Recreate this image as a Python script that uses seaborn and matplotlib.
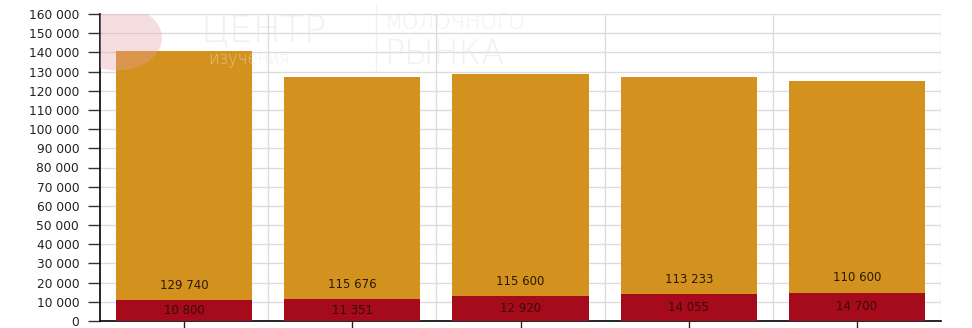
import numpy as np
import pandas as pd
import matplotlib
matplotlib.use("Agg")
import matplotlib.pyplot as plt
import seaborn as sns
from matplotlib.patches import Ellipse

sns.set_theme(style="white")
plt.rcParams['font.family'] = ['DejaVu Sans']

# данные
periods = ["P1", "P2", "P3", "P4", "P5"]
lower_vals = [10800, 11351, 12920, 14055, 14700]
upper_vals = [129740, 115676, 115600, 113233, 110600]

df = pd.DataFrame({"period": periods, "lower": lower_vals, "upper": upper_vals})
df["total"] = df["lower"] + df["upper"]

orange = "#D3921D"
red = "#A50B1B"

fig = plt.figure(figsize=(9.72, 3.28), dpi=100)
ax = fig.add_axes([100/972, 7/328, 841/972, 307/328])

sns.barplot(data=df, x="period", y="total", color=orange, saturation=1,
            width=0.81, linewidth=0, ax=ax, zorder=3)
sns.barplot(data=df, x="period", y="lower", color=red, saturation=1,
            width=0.81, linewidth=0, ax=ax, zorder=3)

ax.set_ylim(0, 160000)
ax.set_xlim(-0.5, len(periods) - 0.5)
ax.set_yticks(np.arange(0, 160001, 10000))
ax.set_yticklabels([f"{v:,}".replace(",", " ") for v in range(0, 160001, 10000)],
                   fontsize=8.8, color="#222222")
ax.set_xticklabels([])
ax.set_xlabel("")
ax.set_ylabel("")

# сетка
for v in range(10000, 160001, 10000):
    ax.axhline(v, color="#dcdcdc", lw=1, zorder=0)
for b in np.arange(0.5, len(periods), 1):
    ax.axvline(b, color="#dcdcdc", lw=1, zorder=0)

for s in ["top", "right"]:
    ax.spines[s].set_visible(False)
ax.spines["left"].set_color("black")
ax.spines["bottom"].set_color("black")
ax.spines["left"].set_linewidth(1.2)
ax.spines["bottom"].set_linewidth(1.2)
ax.tick_params(axis="y", direction="out", length=9, width=1, color="#333333",
               left=True, pad=6)
ax.tick_params(axis="x", direction="out", length=5, width=1, bottom=True)

# подписи значений
for i, row in df.iterrows():
    ax.text(i, row["lower"] / 2, f"{row['lower']:,}".replace(",", " "),
            ha="center", va="center", fontsize=8.5, color="#3a0a0a", zorder=5)
    ax.text(i, row["lower"] + 7800, f"{row['upper']:,}".replace(",", " "),
            ha="center", va="center", fontsize=8.5, color="#2a1a05", zorder=5)

# водяной знак
wm = dict(color="#e4e4e4", alpha=0.55, va="center", ha="left", zorder=7,
          fontweight="light")
ax.add_patch(Ellipse((117/972, 290/328), 90/972, 65/328, transform=fig.transFigure,
                     color="#e8a0a8", alpha=0.35, zorder=6, lw=0))
fig.text(200/972, 296/328, "ЦЕНТР", fontsize=27, **wm)
fig.text(208/972, 269/328, "изучения", fontsize=12, **wm)
fig.add_artist(plt.Line2D([376/972, 376/972], [258/328, 323/328], color="#e4e4e4",
                          lw=1, alpha=0.55))
fig.text(385/972, 305/328, "МОЛОЧНОГО", fontsize=15, **wm)
fig.text(385/972, 274/328, "РЫНКА", fontsize=24, **wm)

plt.savefig("out.png", dpi=100)
